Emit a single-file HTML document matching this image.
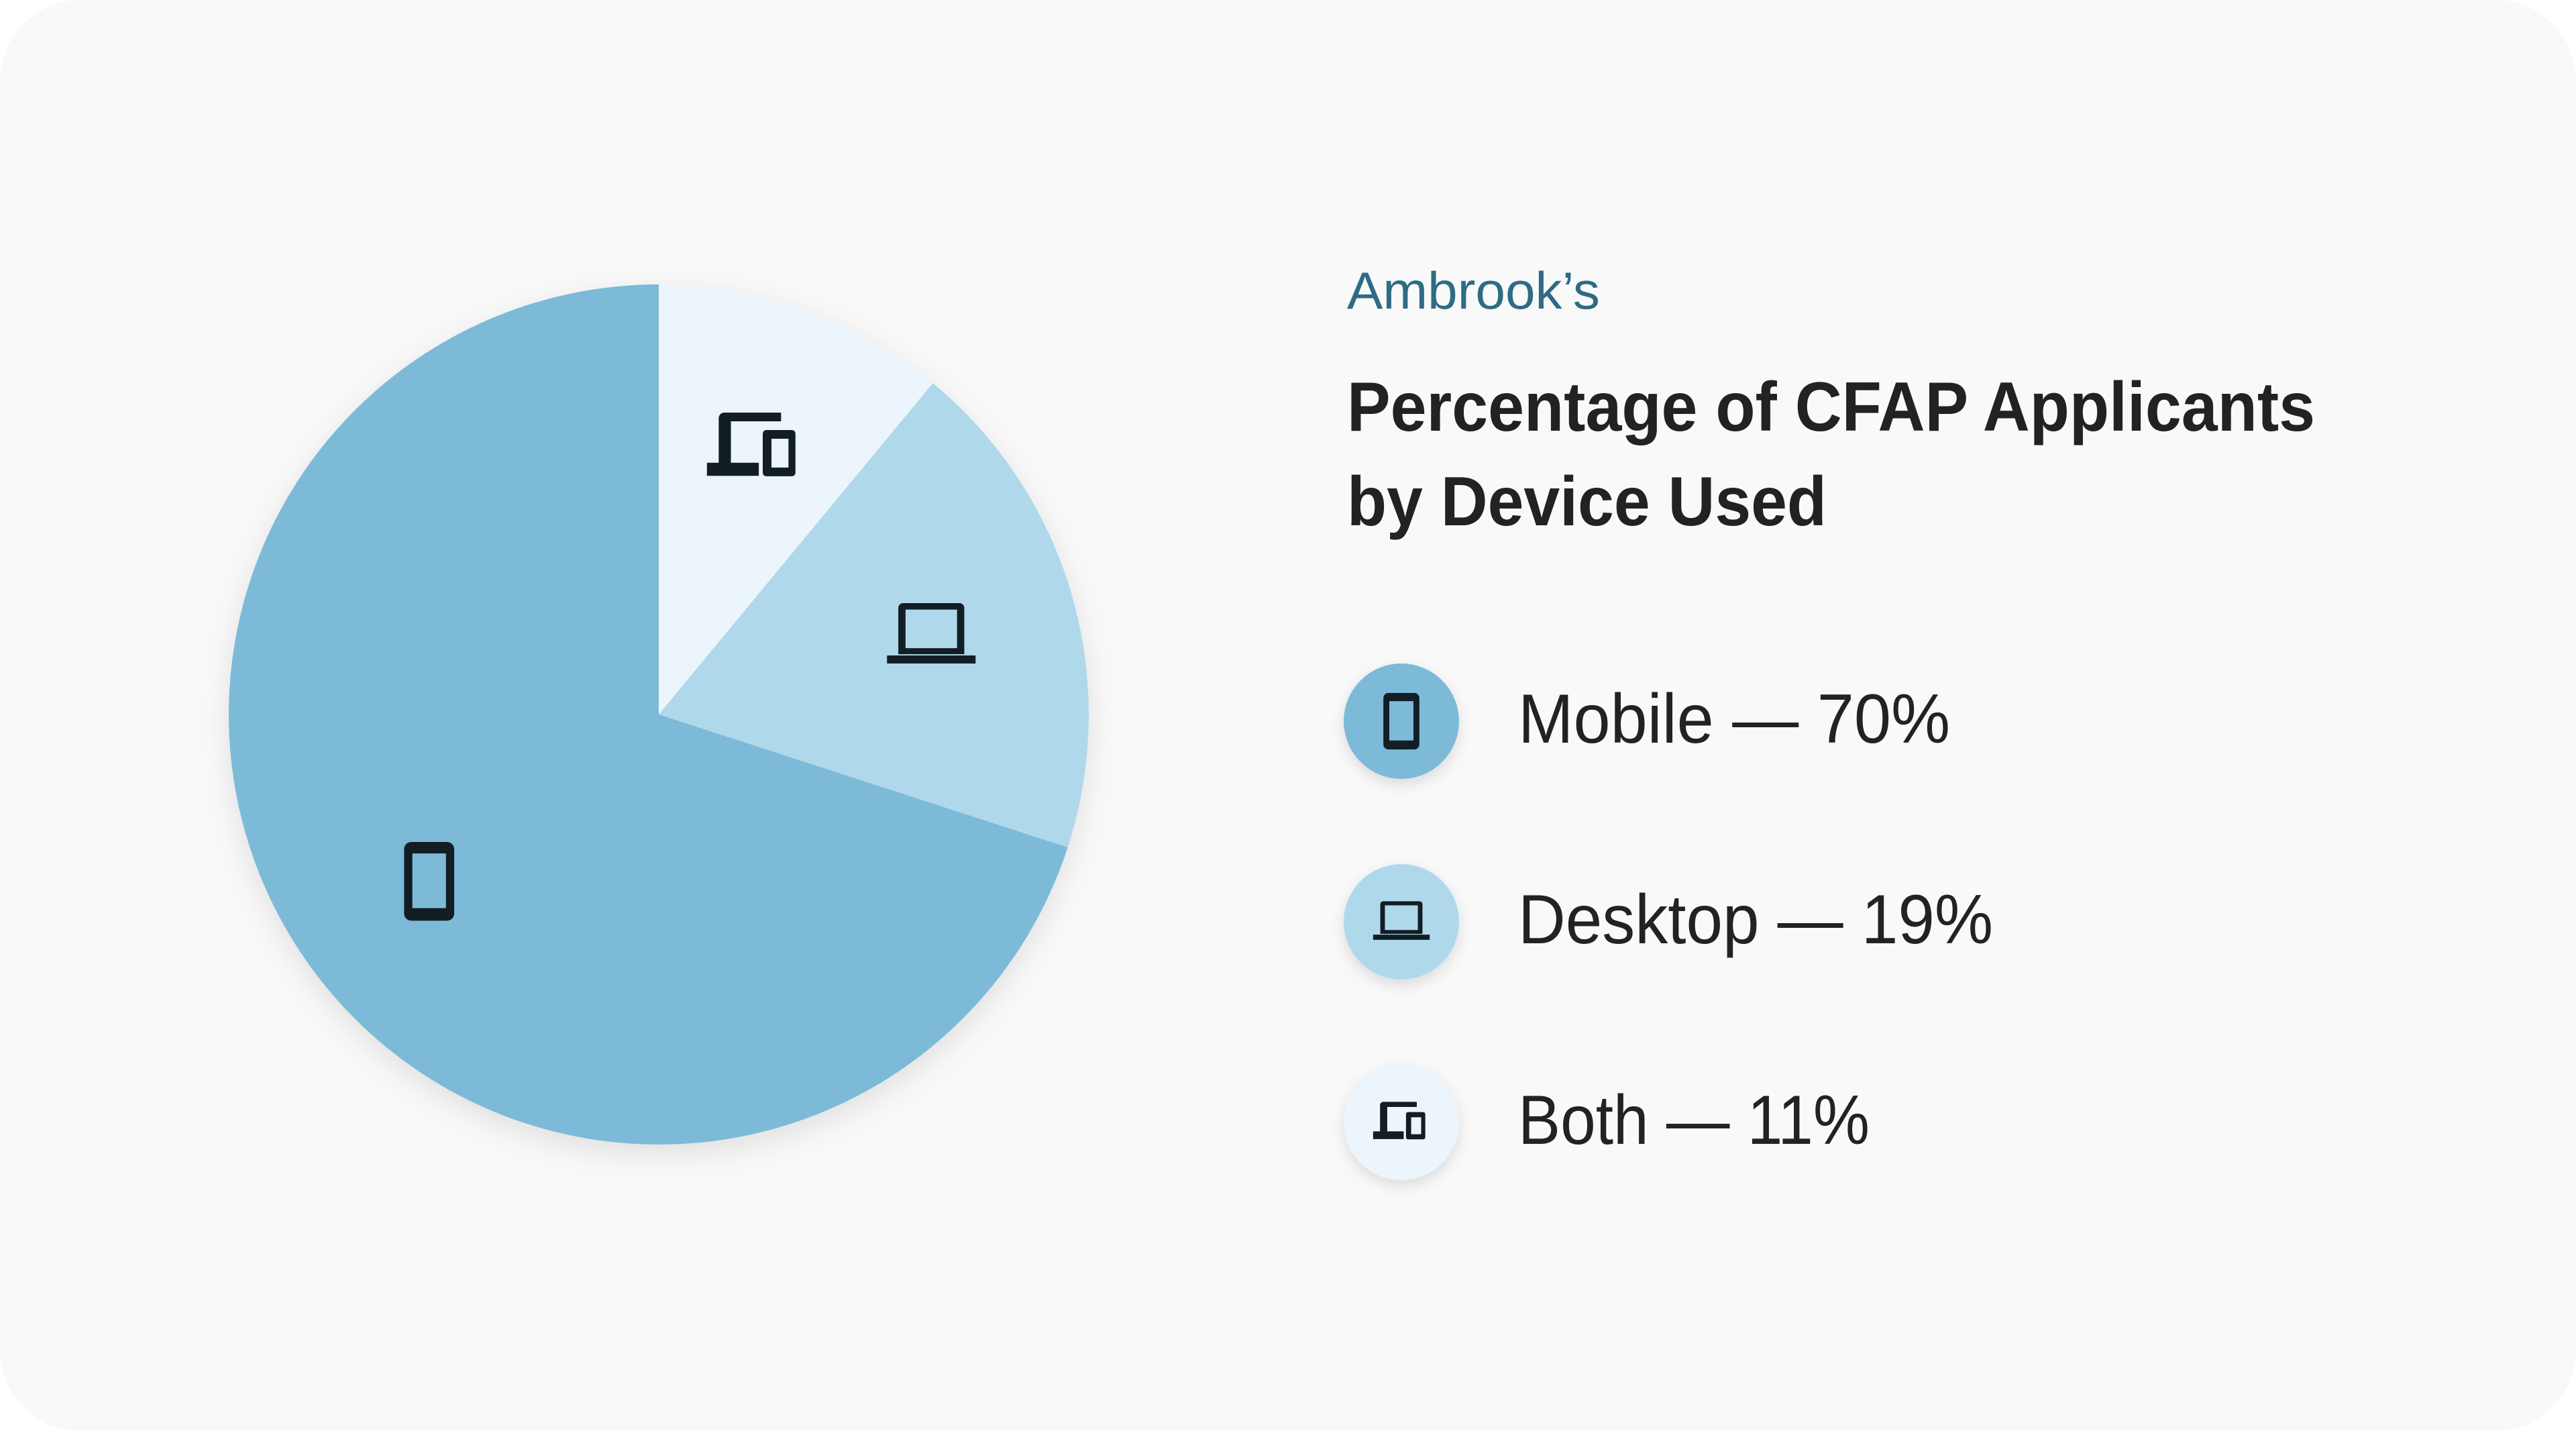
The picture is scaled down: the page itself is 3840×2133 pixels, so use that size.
<!DOCTYPE html>
<html><head><meta charset="utf-8">
<style>
html,body{margin:0;padding:0;background:#ffffff;}
#card{position:absolute;left:0;top:0;width:3840px;height:2133px;background:#f9f9f9;border-radius:120px;overflow:hidden;}
svg{position:absolute;left:0;top:0;}
text{font-family:"Liberation Sans",sans-serif;}
</style></head>
<body>
<div id="card">
<svg id="chart" width="3840" height="2133" viewBox="0 0 3840 2133">
<defs>
<filter id="sh" x="-30%" y="-30%" width="160%" height="160%"><feDropShadow dx="0" dy="14" stdDeviation="22" flood-color="#000" flood-opacity="0.10"/></filter>
<filter id="sh2" x="-50%" y="-50%" width="200%" height="200%"><feDropShadow dx="0" dy="8" stdDeviation="10" flood-color="#000" flood-opacity="0.12"/></filter>
<symbol id="ic-phone" viewBox="0 0 24 24"><path fill-rule="evenodd" fill="#121e24" d="M7 1h10a2 2 0 0 1 2 2v18a2 2 0 0 1-2 2H7a2 2 0 0 1-2-2V3a2 2 0 0 1 2-2z M7.3 4.2v15.3h9.4V4.2z"/></symbol>
<symbol id="ic-laptop" viewBox="0 0 24 24"><path fill-rule="evenodd" fill="#121e24" d="M5 4h14a1.2 1.2 0 0 1 1.2 1.2v11.5H3.8V5.2A1.2 1.2 0 0 1 5 4z M5.6 5.6v9.6h12.8V5.6z M1 17h22v2H1z"/></symbol>
<symbol id="ic-both" viewBox="0 0 24 24"><path fill-rule="evenodd" fill="#121e24" d="M5 4h13v2H6.5v9.5h6.4v3H1v-3h2.7V5.3A1.3 1.3 0 0 1 5 4z M14.6 8h5.9a0.8 0.8 0 0 1 0.8 0.8v9a0.8 0.8 0 0 1-0.8 0.8h-5.9a0.8 0.8 0 0 1-0.8-0.8v-9a0.8 0.8 0 0 1 0.8-0.8z M15.8 10v6.6h3.9V10z"/></symbol>
</defs>
<g id="pie" filter="url(#sh)"></g>
<g id="pie-icons"></g>
<text x="2008" y="460" font-size="78" fill="#2e6b85" textLength="377" lengthAdjust="spacingAndGlyphs">Ambrook’s</text>
<text x="2008" y="642" font-size="104" font-weight="bold" fill="#222222" textLength="1443" lengthAdjust="spacingAndGlyphs">Percentage of CFAP Applicants</text>
<text x="2008" y="783" font-size="104" font-weight="bold" fill="#222222" textLength="715" lengthAdjust="spacingAndGlyphs">by Device Used</text>
<g id="legend"></g>
</svg>
</div>
<script>
const categories = ["Mobile", "Desktop", "Both"];
const values = [70, 19, 11];
const colors = ["#7bbad8", "#b0d8eb", "#ebf5fb"];
const icons = ["ic-phone", "ic-laptop", "ic-both"];

const NS = "http://www.w3.org/2000/svg";
const cx = 982, cy = 1065, R = 641;
const total = values.reduce((a, b) => a + b, 0);
function angleOf(v) { return v / total * Math.PI * 2; }
function pt(a, r) { return [cx + r * Math.sin(a), cy - r * Math.cos(a)]; }

const order = [2, 1, 0];
const iconSize = [128, 144, 156];
const pie = document.getElementById("pie");
const pieIcons = document.getElementById("pie-icons");
let start = 0;
order.forEach(i => {
  const a0 = start, a1 = start + angleOf(values[i]);
  start = a1;
  const p0 = pt(a0, R), p1 = pt(a1, R);
  const large = (a1 - a0) > Math.PI ? 1 : 0;
  const path = document.createElementNS(NS, "path");
  path.setAttribute("d", `M${cx},${cy} L${p0[0]},${p0[1]} A${R},${R} 0 ${large} 1 ${p1[0]},${p1[1]} Z`);
  path.setAttribute("fill", colors[i]);
  
  
  pie.appendChild(path);
  const mid = (a0 + a1) / 2;
  const c = pt(mid, R * 0.66);
  const s = iconSize[i];
  const u = document.createElementNS(NS, "use");
  u.setAttribute("href", "#" + icons[i]);
  u.setAttribute("x", c[0] - s / 2);
  u.setAttribute("y", c[1] - s / 2);
  u.setAttribute("width", s);
  u.setAttribute("height", s);
  
  
  pieIcons.appendChild(u);
});

const legend = document.getElementById("legend");
const ys = [1075, 1374, 1673];
const tw = [644, 708, 524];
categories.forEach((cat, i) => {
  const g = document.createElementNS(NS, "g");
  
  
  const circ = document.createElementNS(NS, "circle");
  circ.setAttribute("cx", 2089); circ.setAttribute("cy", ys[i]); circ.setAttribute("r", 86);
  circ.setAttribute("fill", colors[i]); circ.setAttribute("filter", "url(#sh2)");
  
  
  g.appendChild(circ);
  const u = document.createElementNS(NS, "use");
  u.setAttribute("href", "#" + icons[i]);
  const s = 92;
  u.setAttribute("x", 2089 - s / 2); u.setAttribute("y", ys[i] - s / 2);
  u.setAttribute("width", s); u.setAttribute("height", s);
  
  
  g.appendChild(u);
  const t = document.createElementNS(NS, "text");
  t.setAttribute("x", 2263); t.setAttribute("y", ys[i] + 32);
  t.setAttribute("font-size", 104); t.setAttribute("fill", "#222222");
  t.setAttribute("textLength", tw[i]); t.setAttribute("lengthAdjust", "spacingAndGlyphs");
  t.textContent = cat + " — " + values[i] + "%";
  
  
  g.appendChild(t);
  legend.appendChild(g);
});
</script>
</body></html>
